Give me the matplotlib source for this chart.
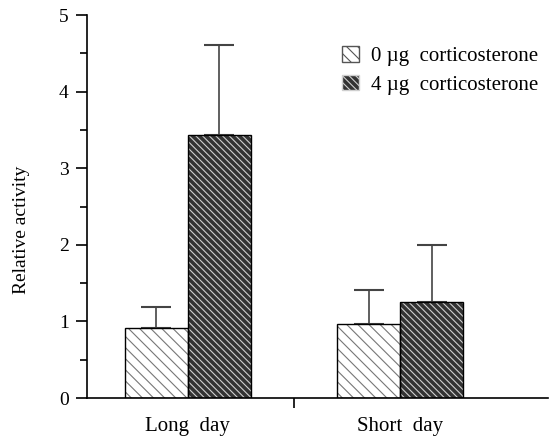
import numpy as np
import matplotlib
matplotlib.use('Agg')
import matplotlib.pyplot as plt
from matplotlib.patches import Patch

# valori
groups = ['Long  day', 'Short  day']
dose_labels = [u'0 \u00b5g  corticosterone', u'4 \u00b5g  corticosterone']
act_0ug = [0.91, 0.96]
err_0ug = [0.28, 0.45]
act_4ug = [3.44, 1.25]
err_4ug = [1.17, 0.75]

plt.rcParams['font.family'] = ['Liberation Serif', 'DejaVu Serif']
plt.rcParams['hatch.linewidth'] = 0.8

fig = plt.figure(figsize=(5.57, 4.42), dpi=100)
ax = fig.add_axes([0.156, 0.0995, 0.828, 0.8665])

x = np.arange(len(groups))
w = 0.297

# barre 0 ug: sfondo bianco, tratteggio grigio
ax.bar(x - w / 2, act_0ug, w, color='white', edgecolor='#777777', hatch='\\\\\\', linewidth=0, zorder=2)
ax.bar(x - w / 2, act_0ug, w, fill=False, edgecolor='black', linewidth=1.0, zorder=3)
# barre 4 ug: sfondo scuro, tratteggio chiaro fitto
ax.bar(x + w / 2, act_4ug, w, color='#333333', edgecolor='#cfcfcf', hatch='\\\\\\\\\\', linewidth=0, zorder=2)
ax.bar(x + w / 2, act_4ug, w, fill=False, edgecolor='black', linewidth=1.0, zorder=3)

# barre di errore solo verso l'alto
ax.errorbar(x - w / 2, act_0ug, yerr=[np.zeros(2), err_0ug], fmt='none', ecolor='#444444',
            elinewidth=1.2, capsize=11, capthick=1.5, zorder=1)
ax.errorbar(x + w / 2, act_4ug, yerr=[np.zeros(2), err_4ug], fmt='none', ecolor='#444444',
            elinewidth=1.2, capsize=11, capthick=1.5, zorder=1)

ax.set_xlim(-0.476, 1.698)
ax.set_ylim(0, 5)
ax.set_yticks(range(6))
ax.set_yticks(np.arange(0.5, 5, 1), minor=True)
ax.set_xticks(x)
ax.set_xticks([0.5], minor=True)
ax.set_xticklabels(groups)
ax.tick_params(axis='x', which='major', length=0, labelsize=15, pad=14)
ax.tick_params(axis='x', which='minor', length=7, width=1.2)
ax.tick_params(axis='y', which='major', length=8, width=1.2, labelsize=14, pad=5)
ax.tick_params(axis='y', which='minor', length=5, width=1.2)
ax.spines['top'].set_visible(False)
ax.spines['right'].set_visible(False)
ax.spines['left'].set_linewidth(1.2)
ax.spines['bottom'].set_linewidth(1.2)
ax.set_ylabel('Relative activity', fontsize=14)
ax.yaxis.set_label_coords(-0.123, 0.44)

handles = [Patch(facecolor='white', edgecolor='#555555', hatch='\\\\\\'),
           Patch(facecolor='#333333', edgecolor='#cfcfcf', hatch='\\\\\\\\\\')]
fig.legend(handles, dose_labels, loc='upper left', bbox_to_anchor=(342 / 557, 1 - 46 / 442),
           frameon=False, borderpad=0, borderaxespad=0, fontsize=15,
           handlelength=0.8, handleheight=0.8, handletextpad=0.6, labelspacing=0.4)

fig.savefig('out.png', dpi=100)
